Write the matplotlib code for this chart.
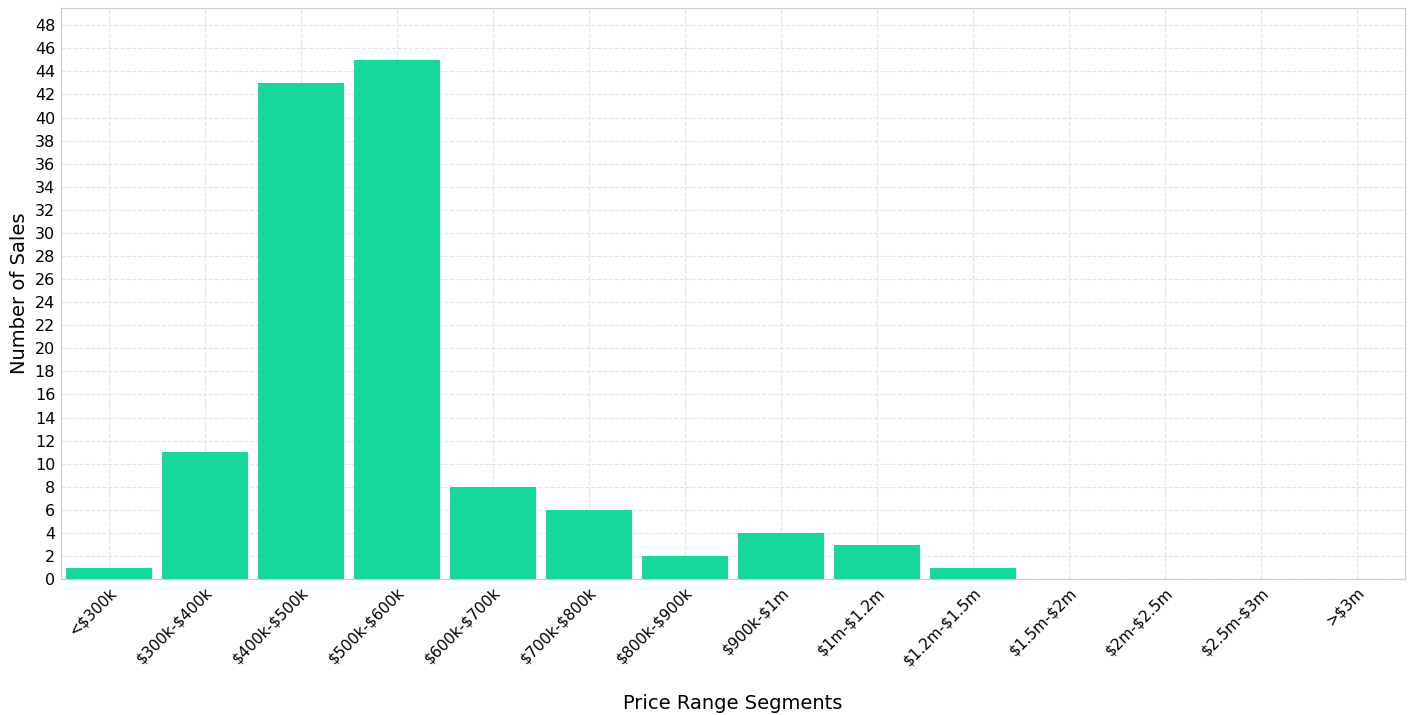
import matplotlib.pyplot as plt
import numpy as np

plt.rcParams['text.parse_math'] = False

categories = ["<$300k", "$300k-$400k", "$400k-$500k", "$500k-$600k", "$600k-$700k",
              "$700k-$800k", "$800k-$900k", "$900k-$1m", "$1m-$1.2m", "$1.2m-$1.5m",
              "$1.5m-$2m", "$2m-$2.5m", "$2.5m-$3m", ">$3m"]
sales = [1, 11, 43, 45, 8, 6, 2, 4, 3, 1, 0, 0, 0, 0]

fig, ax = plt.subplots(figsize=(14.12, 7.15), dpi=100)
fig.subplots_adjust(left=0.043, right=0.995, top=0.989, bottom=0.19)

x = np.arange(len(categories))
ax.bar(x, sales, width=0.9, color="#17d89c", zorder=3)
ax.set_xlim(-0.5, len(categories) - 0.5)
ax.set_ylim(0, 49.5)
ax.set_yticks(range(0, 49, 2))
ax.set_xticks(x)
ax.set_xticklabels(categories, rotation=45, ha="right", rotation_mode="anchor", fontsize=11)
ax.tick_params(axis="y", labelsize=11.5)
ax.tick_params(length=0, pad=4)
ax.grid(True, linestyle="--", color="#e3e3e3", linewidth=0.8, zorder=0)
for s in ax.spines.values():
    s.set_color("#cccccc")
ax.set_ylabel("Number of Sales", fontsize=14)
fig.text(0.519, 0.016, "Price Range Segments", fontsize=14, ha="center", va="center")

fig.savefig("out.png")
